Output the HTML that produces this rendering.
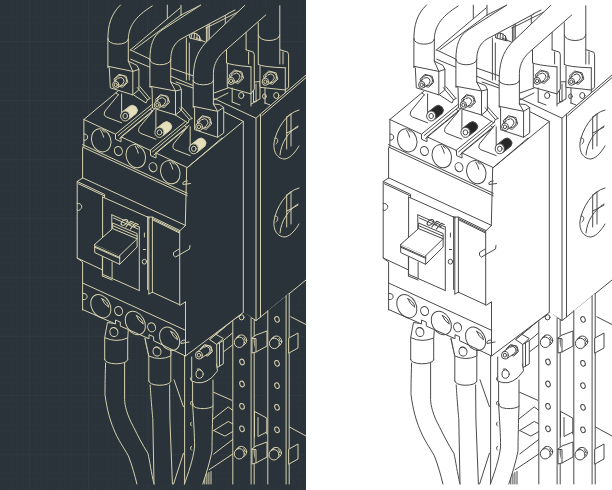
<!DOCTYPE html>
<html><head><meta charset="utf-8"><style>
html,body{margin:0;padding:0;width:612px;height:490px;overflow:hidden;background:#fff;font-family:"Liberation Sans",sans-serif}
svg{display:block}
.L{--fg:#d6d1ae;--bg:#2b333a;--fg2:#e6dfbc}
.R{--fg:#4a4a4a;--bg:#ffffff;--fg2:#262626}
#d{fill:none;stroke:var(--fg);stroke-width:1;stroke-linejoin:round;stroke-linecap:round}
.f{fill:var(--bg)}
.k{fill:var(--fg2)}
.fo{fill:var(--bg);stroke:none}
.t{fill:none;stroke:var(--fg);stroke-width:0.55;font:bold 7px "Liberation Sans",sans-serif}
</style></head><body>
<svg width="612" height="490" viewBox="0 0 612 490">
<defs>
<pattern id="gs" width="6" height="6" patternUnits="userSpaceOnUse"><path d="M5.5 0V6M0 5.5H6" stroke="#2d353c" stroke-width="1" fill="none"/></pattern>
<pattern id="gl" width="59" height="59" patternUnits="userSpaceOnUse" x="0" y="41"><path d="M29.5 0V59M0 0.5H59" stroke="#30393f" stroke-width="1" fill="none"/></pattern>
<clipPath id="cp"><rect x="0" y="0" width="306" height="490"/></clipPath>
<g id="d">
<path d="M167.3,5.2 V18.3 M181,5.2 V15.7 M130,50.3 L180.3,7.8 M133.9,49.7 L181,15 L200.6,5.2 M130.7,50 L150.1,59.2 M130.7,59.2 L150.1,67.3"/>
<path d="M186.4,38 V80 M189.3,43 V80 M206.4,27 V43 M209.3,24 V40 M196,38 L207.5,43"/>
<path d="M190,34 C194,32 199,33 201.4,41 L190,38 Z M192,33.5 L191,38 M194.5,33 L194,38.8 M197,33.8 L197,39.5 M199.5,36 L199.5,40.3"/>
<path d="M169,67.5 L193,75.8 M169,75.5 L193,85.5 M176,82 L193,88"/>
<path d="M225.3,14.7 V27.6 M207.9,23.9 V42.3"/>
<path d="M206,24.5 L235,10 M206,28 L240,11"/>
<path class="fo" d="M212,96 L236,86 L256,80 L306,60 V95 L259.8,116 L215,99 Z"/>
<path d="M214,93 L228,88 M212.5,100.7 L228,93 M251,104 L257,101 M265,103 L281.3,93.6 M289,98 L300,91"/>
<path d="M253.5,82.4 V102 L260,99 V82 Z M256,84 V100"/>
<path class="fo" d="M258.3,22 V64.5 L260,66 V87.3 L265,88 V103 L285.3,106 V90 L288.6,87.3 V54.7 L287.8,52.2 L280.4,49.8 V5.7 H262 Z"/>
<path d="M258.3,22.9 V64.5 M279.8,5.7 V64 M258.3,35 A10.7,5.5 0 0 0 279.8,35"/>
<path d="M280.4,49.8 L287.8,52.2 L288.6,54.7 V87.3 L285.3,90 M283,52 V64 M258.3,64.5 Q262,67 285.3,67.8 M260,66 V87.3 L285.3,90 V67.8"/>
<path d="M265,88 V103 M285.3,90 V106 M265,103 L270,105"/>
<ellipse cx="276.3" cy="95.5" rx="2.6" ry="3.0"/>
<ellipse cx="264.4" cy="96.3" rx="1.8" ry="2.4"/>
<polygon class="f" points="277.6,79.4 272.5,84.2 265.5,82.4 263.6,75.8 268.7,71.0 275.7,72.8"/>
<ellipse cx="270.90000000000003" cy="77.3" rx="5.6160000000000005" ry="5.328"/>
<path class="f" d="M268.3,74.8 L263.2,79.0 L267.7,84.6 L272.9,80.4 Z"/>
<ellipse class="fo" cx="270.6" cy="77.6" rx="3.6" ry="3.6"/>
<path d="M272.9,80.4 A3.6,3.6 0 0 0 268.3,74.8"/>
<ellipse class="f" cx="265.416" cy="81.776" rx="3.24" ry="3.6"/>
<ellipse cx="265.416" cy="81.776" rx="1.62" ry="1.8"/>
<path class="fo" d="M226.5,30 V62.9 L227.3,64 V87.3 L232.2,88 V102 L251,108 V94 L254.3,89 V54.7 L253.5,52.2 L246.1,49.8 V30 Z"/>
<path d="M226.5,30 V62.9 M246.1,30 V49.8 M246.1,49.8 L253.5,52.2 L254.3,54.7 V89 L251,93.9 M248.6,52 V64 M226.5,62.9 Q230,65 251,66.9 M227.3,64 V87.3 L251,93.9 V66.9"/>
<path d="M232.2,88 V102 M251,94 V106 M232.2,102 L240,105"/>
<ellipse cx="241.2" cy="95.5" rx="2.6" ry="3.0"/>
<polygon class="f" points="243.3,78.5 238.2,83.3 231.2,81.5 229.3,74.9 234.4,70.1 241.4,71.9"/>
<ellipse cx="236.60000000000002" cy="76.4" rx="5.6160000000000005" ry="5.328"/>
<path class="f" d="M234.0,73.9 L228.9,78.1 L233.4,83.7 L238.6,79.5 Z"/>
<ellipse class="fo" cx="236.3" cy="76.7" rx="3.6" ry="3.6"/>
<path d="M238.6,79.5 A3.6,3.6 0 0 0 234.0,73.9"/>
<ellipse class="f" cx="231.116" cy="80.876" rx="3.24" ry="3.6"/>
<ellipse cx="231.116" cy="80.876" rx="1.62" ry="1.8"/>
<path class="fo" d="M215,99 L256,118.2 L260.5,114.1 L306,75 V280 L260.5,317 L256,320.6 L244.3,312.4 V125 Z"/>
<path d="M214,98.5 L256,118.2 V320.6 M260.5,114.1 L306,75 M261.8,115.6 L306,77.6 M256,118.2 L260.5,114.1 V317 M243.3,312.4 L256,320.6 L260.5,317 L306,280"/>
<path d="M299,110 C286,113 276,130 274,143 C273,153 278,159 285,159 C291,158 296,151 299,146"/>
<path d="M298,126 C288,132 281,143 280,155"/>
<path d="M286.7,117 L291,114 M286.7,117 V149 M291,114 V146 M286.7,133 L291,131 M291,131 L298,127"/>
<path d="M275,138 C278,137 279,142 276,144"/>
<path d="M299,188 C286,191 276,208 274,221 C273,231 278,237 285,237 C291,236 296,229 299,224"/>
<path d="M298,204 C288,210 281,221 280,233"/>
<path d="M286.7,195 L291,192 M286.7,195 V227 M291,192 V224 M286.7,211 L291,209 M291,209 L298,205"/>
<path d="M275,216 C278,215 279,220 276,222"/>
<path class="fo" d="M232.8,320 L244,312 L252,318 V484 H232.8 Z"/>
<path d="M232.8,320 V484 M251.1,318 V484 M254.2,320 V484 M232.8,320 L241,315"/>
<path class="fo" d="M267.8,310.8 L289.2,293.5 V484 H267.8 Z"/>
<path d="M267.8,310.8 V484 M286.1,296 V484 M289.2,293.5 V484"/>
<ellipse cx="242" cy="362" rx="2.2" ry="2.9" transform="rotate(-20 242 362)"/>
<ellipse cx="242" cy="384" rx="2.2" ry="2.9" transform="rotate(-20 242 384)"/>
<ellipse cx="242" cy="406.3" rx="2.2" ry="2.9" transform="rotate(-20 242 406.3)"/>
<ellipse cx="242" cy="428.8" rx="2.2" ry="2.9" transform="rotate(-20 242 428.8)"/>
<ellipse cx="277" cy="319.4" rx="2.2" ry="2.9" transform="rotate(-20 277 319.4)"/>
<ellipse cx="277" cy="363.3" rx="2.2" ry="2.9" transform="rotate(-20 277 363.3)"/>
<ellipse cx="277" cy="385.7" rx="2.2" ry="2.9" transform="rotate(-20 277 385.7)"/>
<ellipse cx="277" cy="407.3" rx="2.2" ry="2.9" transform="rotate(-20 277 407.3)"/>
<ellipse cx="277" cy="429.8" rx="2.2" ry="2.9" transform="rotate(-20 277 429.8)"/>
<ellipse cx="241.6" cy="317.3" rx="2.4" ry="2.6"/>
<ellipse class="f" cx="241.3" cy="340.3" rx="5.4" ry="5.4"/>
<ellipse class="f" cx="239.3" cy="342.3" rx="5.0" ry="5.2"/>
<path d="M236.3,338.3 L239.3,335.8 M243.8,337.3 L245.3,340.3"/>
<ellipse class="f" cx="241.3" cy="451.8" rx="5.4" ry="5.4"/>
<ellipse class="f" cx="239.3" cy="453.8" rx="5.0" ry="5.2"/>
<path d="M236.3,449.8 L239.3,447.3 M243.8,448.8 L245.3,451.8"/>
<ellipse class="f" cx="276.4" cy="341.4" rx="5.4" ry="5.4"/>
<ellipse class="f" cx="274.4" cy="343.4" rx="5.0" ry="5.2"/>
<path d="M271.4,339.4 L274.4,336.9 M278.9,338.4 L280.4,341.4"/>
<ellipse class="f" cx="276" cy="452.8" rx="5.4" ry="5.4"/>
<ellipse class="f" cx="274" cy="454.8" rx="5.0" ry="5.2"/>
<path d="M271,450.8 L274,448.3 M278.5,449.8 L280,452.8"/>
<path class="f" d="M252,338 L256,335 L267,331 V346 L256,352 V339 Z M252,338 V353 L256,352"/>
<path class="f" d="M289,338 L298,333 V348 L289,353 Z"/>
<path class="f" d="M252,449 L256,446 L267,442 V457 L256,463 V450 Z M252,449 V464 L256,463"/>
<path class="f" d="M289,449 L298,444 V459 L289,464 Z"/>
<path d="M254.5,411.4 L266.8,418.1 V434 M258,417.5 V436.5 L266.8,432 M254.5,411.4 V437"/>
<path d="M290.8,316.8 L306,324.5 M289.5,427 L306,436"/>
<path d="M213.7,392.3 L231.6,400.2 M212.5,419.4 L228.2,406.9 L232.7,410.3 M213.7,430.5 L228.2,421.5 L232.7,423.8 M213.7,430.5 L224.9,436.1 L232.7,431.6 M213.7,454 L232.7,439.5 M209.2,469.7 L232.7,454 M204.8,484 V475 M206.9,484 V473.7 M208.9,484 V472.5 M211,484 V471.5"/>
<path d="M209.9,339.3 L239,314.9 M216,334.4 L232.5,320.5 M223.3,340.6 L232.5,333 M223.3,352 L232.5,345"/>
<path class="f" d="M209.9,339.3 L216,334.4 L223.3,338.5 L217,344.2 Z"/>
<path class="f" d="M217,344.2 L223.3,340.6 V363.8 L217.2,367.5 Z M219.5,343 V366"/>
<path class="fo" d="M192.6,395 V404 C193.5,420 194.6,435 194.6,447 C193,460 188,474 184.4,484 L202.8,484 C206,474 210,462 212,451 C212,440 212.5,420 213,406 V378 L217.5,370.8 L216.4,364 L205,358 L191.7,357 V382 Z"/>
<path d="M192.6,382 V404 C193.5,420 194.6,435 194.6,447 C193,460 188,474 184.4,484 M213,380 V406 C212.5,420 212,440 212,451 C210,462 206,474 202.8,484"/>
<path d="M193.2,404 A10,3.5 0 0 0 213.2,406"/>
<path class="f" d="M191.7,357 V381 Q202,386 211.9,377.5 L217.5,370.8 L216.4,364"/>
<ellipse cx="199.6" cy="374.1" rx="3.6" ry="4.2"/>
<path d="M197.2,369 Q200,367.5 201.8,371"/>
<polygon class="f" points="212.2,351.8 207.8,356.0 201.8,354.5 200.2,348.8 204.6,344.6 210.6,346.1"/>
<ellipse cx="206.5" cy="350.0" rx="4.836" ry="4.588"/>
<path class="f" d="M204.1,347.1 L196.8,352.0 L201.0,358.4 L208.3,353.5 Z"/>
<ellipse class="fo" cx="206.2" cy="350.3" rx="3.8" ry="3.8"/>
<path d="M208.3,353.5 A3.8,3.8 0 0 0 204.1,347.1"/>
<ellipse class="f" cx="198.89999999999998" cy="355.2" rx="3.42" ry="3.8"/>
<ellipse cx="198.89999999999998" cy="355.2" rx="1.71" ry="1.9"/>
<path d="M191.5,376.9 A1.6,2.2 0 0 0 191.5,380.9"/>
<path d="M191.5,401.2 A1.6,2.2 0 0 0 191.5,405.2"/>
<path d="M191.5,422 A1.6,2.2 0 0 0 191.5,426"/>
<path d="M191.5,446.2 A1.6,2.2 0 0 0 191.5,450.2"/>
<path d="M184.6,356 V484 M174,379.8 L183.4,406.7 M183.4,453.3 L173.6,484"/>
<path class="fo" d="M148.8,356 V381 L150.2,384.7 C151.5,400 152.8,419 152.8,419 L154,484 H172.4 L169.9,419 L168.7,381 L170.8,345 L145,338 Z"/>
<path d="M145,339 L148.8,356 V381 M170.8,346 V381 M148.8,381 A11,4 0 0 0 170.8,381.5"/>
<path d="M150.2,385 C151,400 152.8,419 152.8,419 L154,484 M169.6,385 L169.9,419 L172.4,484"/>
<path class="f" d="M145,338 L148.8,356 Q160,361 170.8,356 V343 Z"/>
<ellipse cx="157" cy="351.5" rx="4" ry="4.6" transform="rotate(-10 157 351.5)"/>
<path d="M154,348 Q157,345.5 159.5,349"/>
<path class="fo" d="M104.7,337.6 V359.6 L106.2,370 C105,380 105,390 105,394.5 C107,410 110,420 113.6,428.8 C118,440 124,448 128.3,455.7 C132,465 135,476 136.9,484 H154 C151,472 150,462 147.9,453.3 C142,444 138,436 133.2,426.3 C127,415 124.6,405 124.6,399.4 V363 L127.7,338 L108,322 Z"/>
<path d="M104.7,337.6 V359.6 M127.7,338 V359.6 M104.7,359.6 A11.5,4 0 0 0 127.7,360"/>
<path d="M105.6,363 C105,380 105,390 105,394.5 C107,410 110,420 113.6,428.8 C118,440 124,448 128.3,455.7 C132,465 135,476 136.9,484"/>
<path d="M124.6,363 V399.4 C124.6,405 127,415 133.2,426.3 C138,436 142,444 147.9,453.3 C150,462 151,472 154,484"/>
<path class="f" d="M107.4,322.9 L104.7,337.6 Q116,343 127.7,338 L128.6,326 Z"/>
<ellipse cx="113.9" cy="332" rx="4" ry="4.6" transform="rotate(-10 113.9 332)"/>
<path d="M111,328.5 Q114,326 116.5,329.5"/>
<path class="fo" d="M83.9,119.5 L142,74 L243.3,121.4 V312.4 L185.5,356 L82.6,309.5 V262 L77.2,258 V181.5 L82.6,178 V148 Z"/>
<path d="M186.7,168 L243.3,121.4 V312.4 L185.5,356"/>
<path d="M224.4,112 L243.3,121.4"/>
<path d="M83.9,119.5 L115.5,134.2 V139.2 L121,141.8 V136.8 L150.5,150.5 V155.5 L156,158.0 V153.0 L186.7,167.3 L185.3,225.7"/>
<path d="M83.9,119.5 V146.5 M83.9,134 C88.5,133.5 89,139.5 85,140.3 L83.9,140 M187.3,181 Q182,181 183,184.5 L190.5,183.5"/>
<path d="M82.6,144.6 L187.3,193.3 M82.6,147 L187.3,195.7"/>
<ellipse cx="101.2" cy="140.3" rx="9.5" ry="11.8" transform="rotate(-20 101.2 140.3)"/>
<path d="M100.7,130.3 Q102.7,133.3 103.7,137.3 M102.7,130.3 L104.7,132.3"/>
<ellipse cx="135.8" cy="156.2" rx="9.5" ry="11.8" transform="rotate(-20 135.8 156.2)"/>
<path d="M135.3,146.2 Q137.3,149.2 138.3,153.2 M137.3,146.2 L139.3,148.2"/>
<ellipse cx="170.3" cy="172.2" rx="9.5" ry="11.8" transform="rotate(-20 170.3 172.2)"/>
<path d="M169.8,162.2 Q171.8,165.2 172.8,169.2 M171.8,162.2 L173.8,164.2"/>
<ellipse cx="118.4" cy="151" rx="3.9" ry="4.6" transform="rotate(-20 118.4 151)"/>
<ellipse cx="153" cy="167.2" rx="3.9" ry="4.6" transform="rotate(-20 153 167.2)"/>
<path d="M118.4,94.7 L105.0,111.0 Q103.0,115.5 106.5,117.0 L121.6,122.8 M121.6,94.0 V117.6 M116.0,93.0 L118.4,94.7"/>
<path class="k" d="M121.8,112.4 L129.3,106.4 A5.0,5.0 0 0 1 136.3,113.4 L128.8,119.4 Z"/>
<ellipse class="f" cx="125.2" cy="116.0" rx="4.6" ry="5.0"/>
<ellipse cx="125.2" cy="116.0" rx="2.3" ry="2.6"/>
<path d="M115.5,134.2 M115.5,134.2 L151.6,104.7 M118.2,135.5 L153.2,106.6 M121.0,136.8 L154.8,108.8 M119.6,138.5 L151.0,112.7"/>
<path d="M152.7,111.1 L139.3,127.4 Q137.3,131.9 140.8,133.4 L155.89999999999998,139.2 M155.89999999999998,110.4 V134.0 M150.3,109.4 L152.7,111.1"/>
<path class="k" d="M156.1,128.8 L163.6,122.8 A5.0,5.0 0 0 1 170.6,129.8 L163.1,135.8 Z"/>
<ellipse class="f" cx="159.5" cy="132.4" rx="4.6" ry="5.0"/>
<ellipse cx="159.5" cy="132.4" rx="2.3" ry="2.6"/>
<path d="M149.8,134.2 M149.8,150.6 L185.89999999999998,121.1 M152.5,151.9 L187.5,123.0 M155.3,153.20000000000002 L189.10000000000002,125.19999999999999 M153.89999999999998,154.9 L185.3,129.1"/>
<path d="M187.0,127.5 L173.6,143.8 Q171.6,148.3 175.1,149.8 L190.2,155.6 M190.2,126.8 V150.39999999999998 M184.6,125.8 L187.0,127.5"/>
<path class="k" d="M190.4,145.2 L197.9,139.2 A5.0,5.0 0 0 1 204.9,146.2 L197.4,152.2 Z"/>
<ellipse class="f" cx="193.8" cy="148.8" rx="4.6" ry="5.0"/>
<ellipse cx="193.8" cy="148.8" rx="2.3" ry="2.6"/>
<path d="M83.9,119.5 L117.6,91.4"/>
<path d="M187.3,167.6 L222,138"/>
<path d="M82.6,148 V178 M82.6,177.8 L185.3,225.3"/>
<path d="M82.6,178 L77.2,181.5 V258 L82.6,262 V310 M77.2,181.5 L104.6,194.4 V197.4 M78.5,183.8 L104.6,196"/>
<path d="M77.2,203.5 C82.5,202.5 83.5,209 78.5,210.5 L77.2,210"/>
<path d="M102.6,197 V274.3 L139.4,290.6 M102.6,197 L149.5,217.9 M77.2,258 L102.6,270"/>
<path d="M111.8,214.8 L139.3,227 M111.8,214.8 V236 M113.5,218 L138,229 M139.3,227 V290.4"/>
<g transform="translate(119.6,224.2) rotate(24) skewX(-16)" style="stroke-width:1.05"><ellipse cx="2.6" cy="-3.6" rx="2.4" ry="3.4"/><path d="M6.8,0 V-7.2 H10.2 M6.8,-3.9 H9.4 M11.8,0 V-7.2 H15.2 M11.8,-3.9 H14.4"/></g>
<path class="f" d="M112.6,228.6 V223 L137.1,233.5 V238.8 Z"/>
<path d="M113.5,226 L137.1,236.2"/>
<path class="f" d="M102.4,257 V276 M112.1,262 V278 M102.4,276 L112.1,280"/>
<path class="f" d="M94.7,244.4 L112.6,228.6 L137.1,238.8 L119.7,255.6 Z"/>
<path class="f" d="M94.7,244.4 V252.6 L119.7,264.3 V255.6 M119.7,264.3 L137.1,247 V238.8"/>
<path d="M94.7,246.2 L119.7,257.4 M94.7,247.2 L119.7,258.4"/>
<path d="M144.4,233 V237 M143.4,249.5 H145.6"/>
<ellipse cx="144.4" cy="261.7" rx="2.2" ry="2.4"/>
<path d="M147.6,216.4 V289.4"/>
<path d="M153,218.8 L179.5,231.8 M153,220 L179.5,233"/>
<path d="M148.8,217 V294 M152.4,217.1 V292.2 M148.8,217 L152.4,217.1 L180,230.6 L185.3,225.7 M179.7,230.6 V305 M152.4,292.2 L180.4,305.1 L185.3,302 M148.8,294 L152.4,292.2"/>
<path d="M179,249 L173.5,252.5 Q172.5,256 175.5,257 L189.5,249 L190,245.5"/>
<path d="M82.6,283 L185.3,330.2"/>
<path d="M82.6,309.5 L115.5,324.0 V320.0 L120.3,322.1 V326.1 L149,338.7 V334.7 L153.6,336.7 V340.7 L185.5,356 V302"/>
<path d="M83.3,293.5 C88,292.8 88.5,299 84.5,299.5 L83.3,299.5"/>
<path d="M185.5,340 Q180,340 181,343.5 L189,342"/>
<ellipse cx="100.8" cy="306.2" rx="9.2" ry="12.4" transform="rotate(-30 100.8 306.2)"/>
<path d="M101.8,298.7 Q103.8,304.2 108.8,307.2 Q107.8,301.2 101.8,298.7"/>
<ellipse cx="135.3" cy="323" rx="9.2" ry="12.4" transform="rotate(-30 135.3 323)"/>
<path d="M136.3,315.5 Q138.3,321 143.3,324 Q142.3,318 136.3,315.5"/>
<ellipse cx="169.6" cy="338.8" rx="9.2" ry="12.4" transform="rotate(-30 169.6 338.8)"/>
<path d="M170.6,331.3 Q172.6,336.8 177.6,339.8 Q176.6,333.8 170.6,331.3"/>
<ellipse cx="118.6" cy="311" rx="3.9" ry="4.6" transform="rotate(-20 118.6 311)"/>
<ellipse cx="151.6" cy="327.3" rx="3.9" ry="4.6" transform="rotate(-20 151.6 327.3)"/>
<path class="fo" d="M107.9,38.8 C107.9,25 111,14 120.5,5 L152.2,5 C134,17 128.3,28 128.3,39.5 V61.2 L132.8,71.4 V94.9 L110.3,87.8 L109.3,67.3 L107.9,67.3 Z"/>
<path d="M107.9,38.8 C107.9,25 111,14 120.5,5 M128.3,39.5 C128.3,28 134,17 152.2,6 M107.9,38.8 A10.2,5 0 0 0 128.3,39.5 M107.9,38.8 V67.3 M128.3,39.5 V61.2"/>
<path class="f" d="M107.9,67.3 Q108,66 109.3,67.6 L110.3,87.8 L132.8,94.9 V71.4 L128.3,61.2 M128.3,61.2 L136.9,65.3 L138.9,69.4 V89.8 L132.8,94.9 M132.8,71.4 L138.9,69.4 M108,66.3 L132.8,71.4"/>
<polygon class="f" points="127.6,82.5 122.6,87.2 115.9,85.5 114.0,79.1 119.0,74.4 125.7,76.1"/>
<ellipse cx="121.1" cy="80.5" rx="5.46" ry="5.18"/>
<path class="f" d="M118.6,78.1 L113.6,82.1 L118.0,87.6 L123.0,83.5 Z"/>
<ellipse class="fo" cx="120.8" cy="80.8" rx="3.5" ry="3.5"/>
<path d="M123.0,83.5 A3.5,3.5 0 0 0 118.6,78.1"/>
<ellipse class="f" cx="115.75999999999999" cy="84.86" rx="3.15" ry="3.5"/>
<ellipse cx="115.75999999999999" cy="84.86" rx="1.575" ry="1.75"/>
<path d="M137.3,87.6 L147.5,99.8 M139.8,86.5 L150,98.5 M133.7,95 L146,103 L147.5,99.8 L150,98.5"/>
<path class="fo" d="M149.9,59.5 C149.9,45 153,36 162,30 L200.6,5.2 L228.1,13.8 L181,39 C174,43.5 170.7,50 170.7,60 V82 L175.5,91 V115 L152,108 L151,87 L150.1,87 Z"/>
<path d="M149.9,59.5 C149.9,45 153,36 162,30 L200.6,5.2 M170.7,60 C170.7,50 174,43.5 181,39 L228.1,13.8 M149.9,59.5 A10.4,5 0 0 0 170.7,60 M149.9,59.5 V87 M170.7,60 V82"/>
<path class="f" d="M150.1,87 Q151,86 152,87.4 L152.5,108 L175.5,115 V91 L170.7,82 M170.7,82 L179.4,85.5 L181.4,89.5 V110 L175.5,115 M175.5,91 L181.4,89.5 M150.2,86.3 L175.5,91"/>
<polygon class="f" points="169.2,102.7 164.2,107.4 157.5,105.7 155.6,99.3 160.6,94.6 167.3,96.3"/>
<ellipse cx="162.70000000000002" cy="100.7" rx="5.46" ry="5.18"/>
<path class="f" d="M160.2,98.3 L155.2,102.3 L159.6,107.8 L164.6,103.7 Z"/>
<ellipse class="fo" cx="162.4" cy="101" rx="3.5" ry="3.5"/>
<path d="M164.6,103.7 A3.5,3.5 0 0 0 160.2,98.3"/>
<ellipse class="f" cx="157.36" cy="105.06" rx="3.15" ry="3.5"/>
<ellipse cx="157.36" cy="105.06" rx="1.575" ry="1.75"/>
<path d="M179.3,107.8 L189.3,119.5 M181.6,106.8 L192,118.5 M175.5,115 L188,123 L189.3,119.5 L192,118.5"/>
<path class="fo" d="M193.2,80.8 C193.2,64 196,53 206,42.3 L244.6,5.5 L265.8,14.9 L226.3,49.6 C218,56 213.4,64 213.4,73.5 V104 L223.7,107.5 V133 L217.6,137.3 L194.6,129.7 V108 L193.2,107 Z"/>
<path d="M193.2,80.8 C193.2,64 196,53 206,42.3 L244.6,5.5 M213.4,80.8 V73.5 C213.4,64 218,56 226.3,49.6 L265.8,14.9 M193.2,80.8 A10.1,4 0 0 0 213.4,80.8 M193.2,80.8 V107 M213.4,80.8 V105"/>
<path class="f" d="M193.2,107 Q193.5,106 194.6,108.2 V129.7 L217.6,137.3 V111.3 L213.4,104 M213.4,104 L219.6,104.5 L223.7,107.5 V133 L217.6,137.3 M217.6,111.3 L223.7,107.5 M193.2,106.3 L217.6,111.3"/>
<polygon class="f" points="211.4,124.3 206.2,129.3 199.1,127.5 197.2,120.7 202.4,115.7 209.5,117.5"/>
<ellipse cx="204.60000000000002" cy="122.2" rx="5.772" ry="5.476"/>
<path class="f" d="M202.0,119.6 L196.7,123.9 L201.3,129.7 L206.6,125.4 Z"/>
<ellipse class="fo" cx="204.3" cy="122.5" rx="3.7" ry="3.7"/>
<path d="M206.6,125.4 A3.7,3.7 0 0 0 202.0,119.6"/>
<ellipse class="f" cx="198.972" cy="126.792" rx="3.33" ry="3.7"/>
<ellipse cx="198.972" cy="126.792" rx="1.665" ry="1.85"/>
</g>
</defs>
<rect x="0" y="0" width="306" height="490" fill="#2b333a"/>
<rect x="0" y="0" width="306" height="490" fill="url(#gs)"/>
<rect x="0" y="0" width="306" height="490" fill="url(#gl)"/>
<g class="L" clip-path="url(#cp)"><use href="#d"/></g>
<g class="R" transform="translate(306,0)" clip-path="url(#cp)"><use href="#d"/></g>
</svg>
</body></html>
